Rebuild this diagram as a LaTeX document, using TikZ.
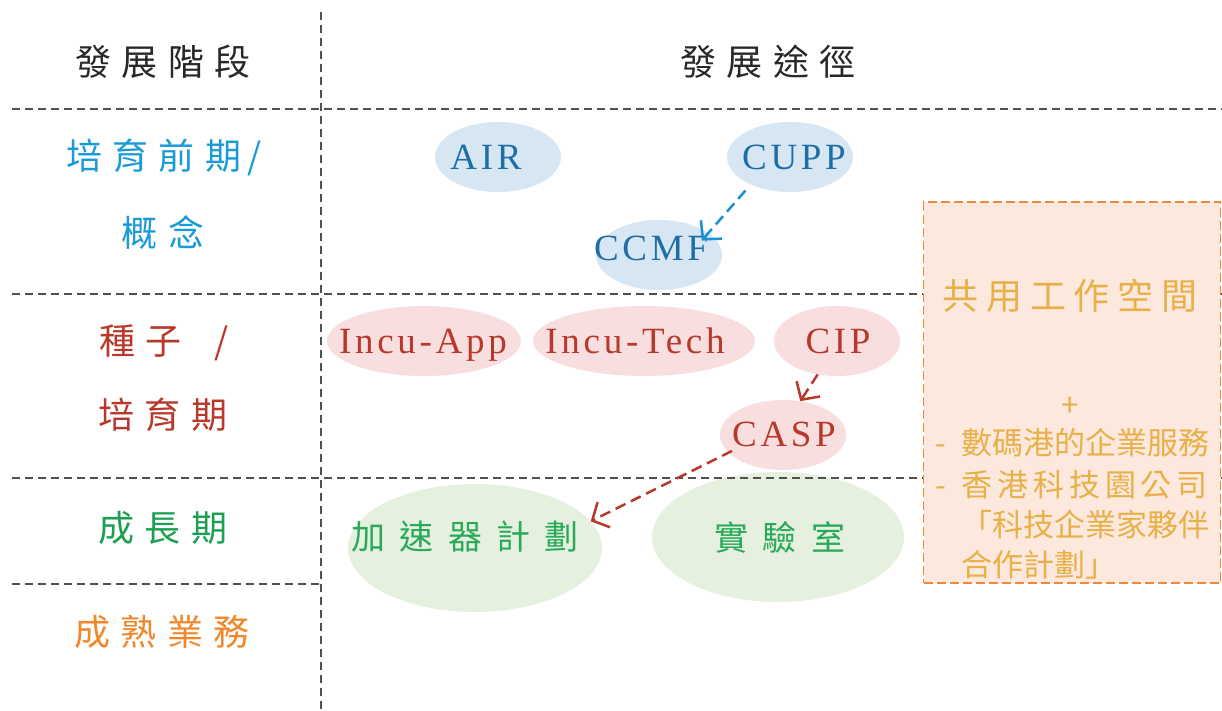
\documentclass[tikz,border=0pt]{standalone}
\usepackage{fontspec}
\setmainfont{Liberation Serif}
\newfontfamily\hdfont[LetterSpace=28]{Noto Sans CJK TC}
\newfontfamily\titlefont[LetterSpace=22]{Noto Sans CJK TC}
\newfontfamily\planfont[LetterSpace=42]{Noto Sans CJK TC}
\newfontfamily\itemfont{Noto Sans CJK TC}
\newfontfamily\itemspfont[LetterSpace=16]{Noto Sans CJK TC}
\newfontfamily\latfont[LetterSpace=10]{Liberation Serif}
\usepackage{tikz}
\usetikzlibrary{
  arrows.meta,
  calc,
  positioning,
  shapes
}
\definecolor{headgray}{RGB}{40,40,40}
\definecolor{gridgray}{RGB}{80,80,80}
\definecolor{stageblue}{RGB}{26,155,214}
\definecolor{stagered}{RGB}{184,57,43}
\definecolor{stagegreen}{RGB}{26,160,80}
\definecolor{stageorange}{RGB}{240,135,42}
\definecolor{blobblue}{RGB}{214,230,242}
\definecolor{blobred}{RGB}{249,222,224}
\definecolor{blobgreen}{RGB}{230,240,222}
\definecolor{textblue}{RGB}{30,110,165}
\definecolor{textred}{RGB}{184,57,43}
\definecolor{textgreen}{RGB}{40,170,90}
\definecolor{arrowblue}{RGB}{22,145,210}
\definecolor{boxfill}{RGB}{253,232,221}
\definecolor{boxline}{RGB}{240,135,58}
\definecolor{boxtext}{RGB}{232,176,72}

\begin{document}
\begin{tikzpicture}[x=1pt,y=-1pt,
  grid/.style={dash pattern=on 8pt off 5pt,line width=1.3pt,gridgray},
  blob/.style={ellipse,inner sep=0pt,minimum width=126pt,minimum height=70pt},
  blueblob/.style={blob,fill=blobblue},
  redblob/.style={blob,fill=blobred},
  greenblob/.style={blob,fill=blobgreen,minimum width=254pt,minimum height=128pt},
  stage/.style={font=\hdfont\fontsize{36}{40}\selectfont,inner sep=0pt},
  rom/.style={font=\latfont\fontsize{37}{40}\selectfont,text height=25pt,text depth=0pt,inner sep=0pt},
  plan/.style={font=\planfont\fontsize{34}{40}\selectfont,inner sep=0pt,textgreen},
  sharetitle/.style={font=\titlefont\fontsize{36}{40}\selectfont,inner sep=0pt,boxtext},
  shareitem/.style={font=\itemfont\fontsize{31}{36}\selectfont,inner sep=0pt,boxtext},
  flow/.style={-{Straight Barb[length=13pt,width=28pt]},dash pattern=on 11pt off 6pt,line width=2.5pt}
]
  \useasboundingbox (0,0) rectangle (1222,711);

  \node[blueblob] (AIR) at (498,157) {};
  \node[blueblob] (CUPP) at (790,157) {};
  \node[blueblob] (CCMF) at (659,255) {};
  \node[redblob,minimum width=194pt] (Incu App) at (424,341) {};
  \node[redblob,minimum width=222pt] (Incu Tech) at (644,341) {};
  \node[redblob] (CIP) at (837,341) {};
  \node[redblob] (CASP) at (783,435) {};
  \node[greenblob] (Accelerator) at (475,548) {};
  \node[greenblob,minimum width=252pt,minimum height=130pt] (Lab) at (778,537) {};

  \draw[grid] (321,12) -- (321,711);
  \draw[grid] (12,109) -- (1222,109);
  \draw[grid] (12,294) -- (1222,294);
  \draw[grid] (12,478) -- (1222,478);
  \draw[grid] (12,584) -- (321,584);

  \node[draw=boxline,fill=boxfill,dash pattern=on 9pt off 4pt,line width=1.3pt,
  minimum width=297pt,minimum height=381pt,inner sep=0pt] (Coworking) at (1072,392.5) {};

  \node[stage,headgray] (Stage Head) at (163,62) {發展階段};
  \node[stage,headgray] (Path Head) at (768,62) {發展途徑};
  \node[stage,stageblue] (Pre Label) at (164,157) {培育前期\hspace{6pt}/};
  \node[stage,stageblue] (Concept Label) at (163,233) {概念};
  \node[stage,stagered] (Seed Label) at (164,343) {種子\hspace{14pt} /};
  \node[stage,stagered] (Incubation Label) at (163,415) {培育期};
  \node[stage,stagegreen] (Growth Label) at (163,528) {成長期};
  \node[stage,stageorange] (Mature Label) at (162,632) {成熟業務};

  \node[rom,textblue] (AIR Text) at (486,157) {AIR};
  \node[rom,textblue] (CUPP Text) at (794,157) {CUPP};
  \node[rom,textblue] (CCMF Text) at (651,248) {CCMF};
  \node[rom,textred] (Incu App Text) at (423,341) {Incu-App};
  \node[rom,textred] (Incu Tech Text) at (635,341) {Incu-Tech};
  \node[rom,textred] (CIP Text) at (838,341) {CIP};
  \node[rom,textred] (CASP Text) at (784,434) {CASP};
  \node[plan] (Accelerator Text) at (465,537) {加速器計劃};
  \node[plan] (Lab Text) at (780,537) {實驗室};

  \node[sharetitle] (Coworking Title) at (1070,296) {共用工作空間};
  \node[shareitem] (Plus) at (1070,407) {+};
  \node[shareitem,anchor=west] (Cyberport Item) at (961,443) {\llap{-\hspace{15pt}}數碼港的企業服務};
  \node[shareitem,anchor=west,font=\itemspfont\fontsize{31}{36}\selectfont]
  (Park Item) at (961,485) {\llap{-\hspace{15pt}}香港科技園公司};
  \node[shareitem,anchor=west] (Partner Item) at (961,525) {「科技企業家夥伴};
  \node[shareitem,anchor=west] (Partner Item End) at (961,565) {合作計劃」};

  \draw[flow,arrowblue,shorten <=8pt,shorten >=-10pt] (CUPP.215) -- (CCMF.24);
  \draw[flow,textred] (CIP.240) -- (CASP.63);
  \draw[flow,textred,shorten <=-4pt] (CASP.198) -- (Accelerator.13);
\end{tikzpicture}
\end{document}
